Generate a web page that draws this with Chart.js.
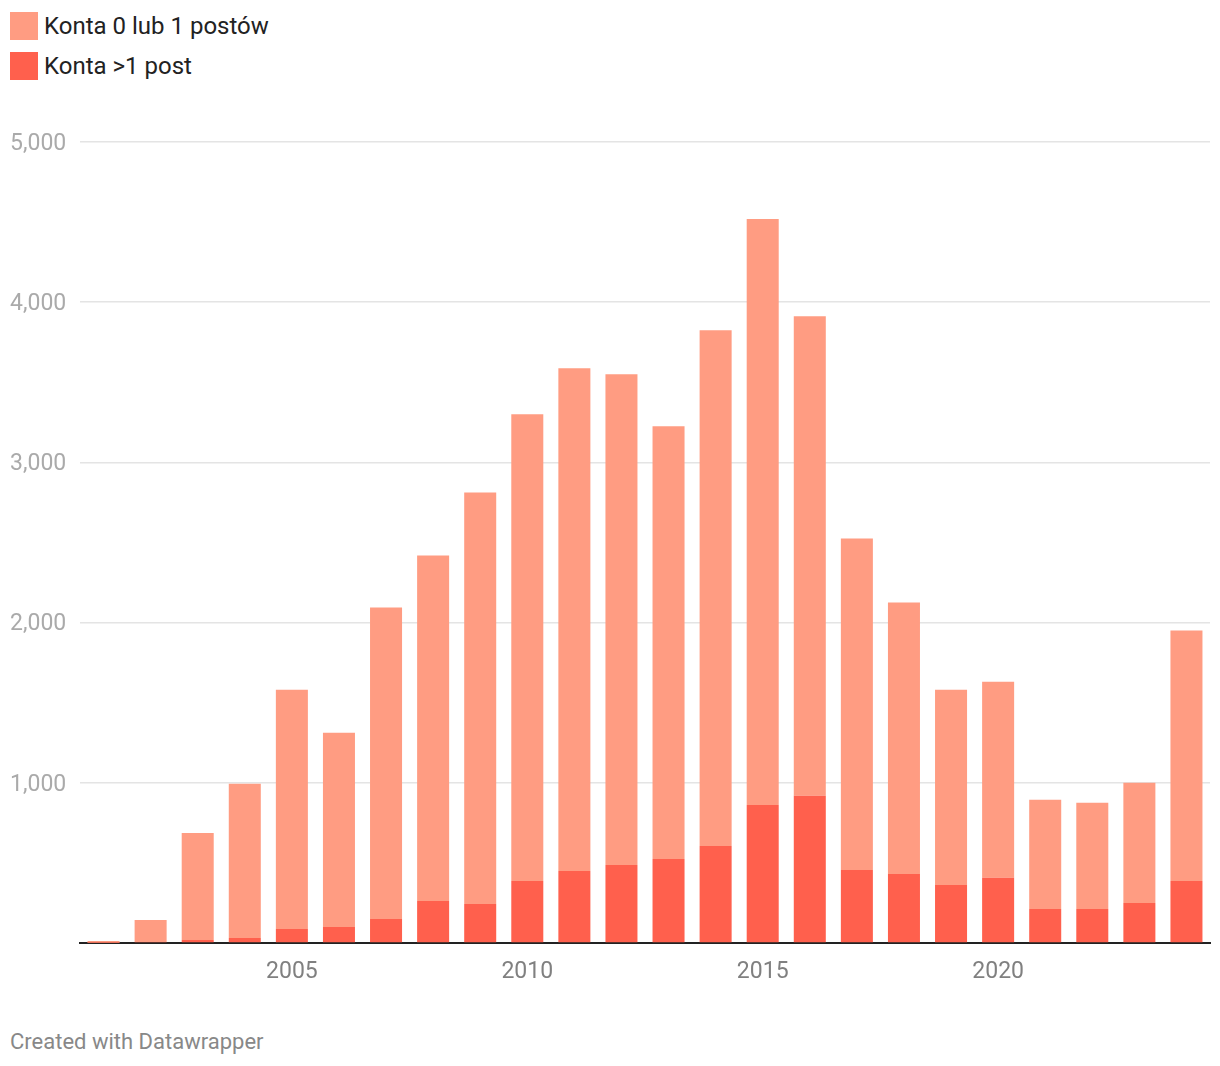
<!DOCTYPE html>
<html>
<head>
<meta charset="utf-8">
<script src="https://cdn.jsdelivr.net/npm/chart.js@4"></script>
<style>
    body { margin: 0; background: #fff; font-family: Roboto, sans-serif; }
    #page { position: relative; width: 1220px; height: 1066px; }
    .legend { position: absolute; left: 10px; top: 12px; }
    .legend-item { display: flex; align-items: center; height: 28px; margin-bottom: 12px; font-size: 24px; color: #222; }
    .legend-box { width: 28px; height: 28px; margin-right: 6px; }
    #chartWrap { position: absolute; left: 0; top: 121px; width: 1220px; height: 880px; }
    .footer { position: absolute; left: 10px; top: 1029px; font-size: 22px; color: #888; }
</style>
</head>
<body>
<div id="page">
    <div class="legend">
        <div class="legend-item"><span class="legend-box" style="background:#ff9c82"></span>Konta 0 lub 1 postów</div>
        <div class="legend-item"><span class="legend-box" style="background:#ff604d"></span>Konta &gt;1 post</div>
    </div>
    <div id="chartWrap"><canvas id="chart"></canvas></div>
    <div class="footer">Created with Datawrapper</div>
</div>
<script>
// Years on the x axis
const years = [2001, 2002, 2003, 2004, 2005, 2006, 2007, 2008, 2009, 2010, 2011, 2012,
               2013, 2014, 2015, 2016, 2017, 2018, 2019, 2020, 2021, 2022, 2023, 2024];

// Accounts with more than one post (bottom of the stack)
const morePosts = [2, 6, 19, 31, 88, 100, 150, 262, 244, 387, 450, 487,
                   525, 606, 862, 919, 456, 431, 362, 408, 212, 212, 250, 387];

// Accounts with 0 or 1 posts (top of the stack)
const fewPosts = [10, 138, 668, 963, 1493, 1212, 1944, 2157, 2568, 2913, 3137, 3063,
                  2700, 3219, 3657, 2993, 2069, 1694, 1219, 1223, 682, 663, 750, 1563];

const yTicks = [0, 1000, 2000, 3000, 4000, 5000];

const ctx = document.getElementById('chart').getContext('2d');
new Chart(ctx, {
    type: 'bar',
    data: {
        labels: years,
        datasets: [
            {
                label: 'Konta >1 post',
                data: morePosts,
                backgroundColor: '#ff604d'
            },
            {
                label: 'Konta 0 lub 1 postów',
                data: fewPosts,
                backgroundColor: '#ff9c82'
            }
        ]
    },
    options: {
        responsive: true,
        maintainAspectRatio: false,
        animation: false,
        datasets: {
            bar: { categoryPercentage: 1, barPercentage: 0.68 }
        },
        layout: {
            padding: { top: 21, left: 10, right: 10, bottom: 0 }
        },
        scales: {
            x: {
                stacked: true,
                grid: { display: false },
                border: { color: '#222', width: 2 },
                ticks: {
                    autoSkip: false,
                    maxRotation: 0,
                    padding: 7,
                    color: '#808080',
                    font: { family: 'Roboto', size: 23 },
                    callback: function (value, index) {
                        const y = years[index];
                        return y % 5 === 0 ? String(y) : '';
                    }
                },
                afterFit: scale => { scale.height = 58; }
            },
            y: {
                stacked: true,
                min: 0,
                max: 5000,
                afterBuildTicks: scale => { scale.ticks = yTicks.map(v => ({ value: v })); },
                grid: { color: '#e4e4e4', lineWidth: 1.5, drawTicks: false },
                border: { display: false },
                ticks: {
                    crossAlign: 'far',
                    labelOffset: 2,
                    color: '#aaa',
                    font: { family: 'Roboto', size: 23 },
                    callback: v => v === 0 ? '' : v.toLocaleString('en-US')
                },
                afterFit: scale => { scale.width = 70; }
            }
        },
        plugins: {
            legend: { display: false },
            tooltip: { enabled: false }
        }
    }
});
</script>
</body>
</html>
